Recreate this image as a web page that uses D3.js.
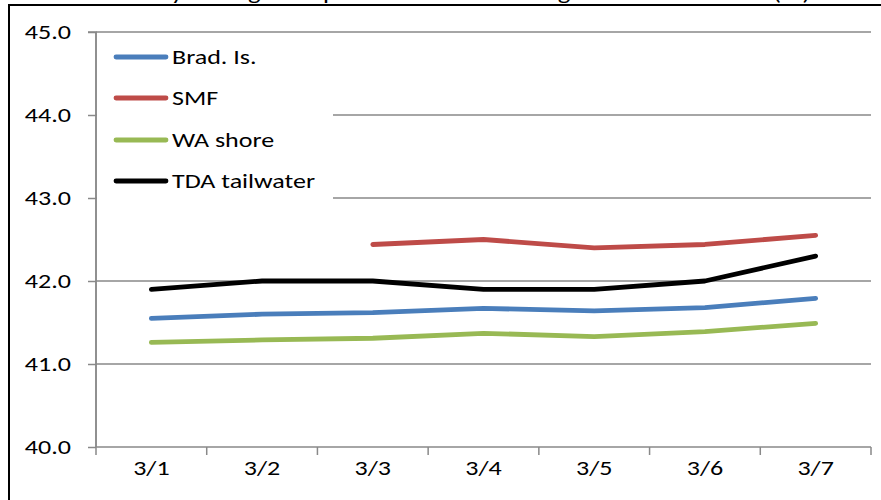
<!DOCTYPE html>
<html>
<head>
<meta charset="utf-8">
<script src="https://cdn.jsdelivr.net/npm/d3@7"></script>
<style>
  html, body { margin: 0; padding: 0; background: #fff; overflow: hidden; }
  svg { display: block; }
  text { font-family: Carlito, Lato, "Open Sans", sans-serif; fill: #000; }
</style>
</head>
<body>
<svg id="chart" width="881" height="500"></svg>
<script>
const categories = ["3/1", "3/2", "3/3", "3/4", "3/5", "3/6", "3/7"];
const bradIs = [41.55, 41.60, 41.62, 41.67, 41.64, 41.68, 41.79];
const smf = [null, null, 42.44, 42.50, 42.40, 42.44, 42.55];
const waShore = [41.26, 41.29, 41.31, 41.37, 41.33, 41.39, 41.49];
const tdaTailwater = [41.9, 42.0, 42.0, 41.9, 41.9, 42.0, 42.3];
const yTicks = [40, 41, 42, 43, 44, 45];
const seriesNames = ["Brad. Is.", "SMF", "WA shore", "TDA tailwater"];
const seriesColors = ["#4a7ebb", "#be4b48", "#98b954", "#000000"];
const titleText = "Daily average temperature at monitoring stations near TDA (°F)";

const series = [bradIs, smf, waShore, tdaTailwater].map((v, i) => ({
  name: seriesNames[i], color: seriesColors[i], values: v
}));

const svg = d3.select("#chart");
const SX = 1.27; // horizontal stretch of text seen in the reference
const FS = "20.5px";
const gridColor = "#898989";

const margin = { left: 96 };

const x = d3.scaleBand().domain(categories).range([margin.left, 871]).paddingInner(0).paddingOuter(0);
const y = d3.scaleLinear().domain([40, 45]).range([447, 32]);

function stretchedText(sel, tx, ty, str, anchor, size) {
  return sel.append("text")
    .attr("transform", `translate(${tx},${ty}) scale(${SX},1)`)
    .attr("text-anchor", anchor)
    .attr("font-size", size)
    .text(str);
}

// title (mostly cut off at the top, as in the reference)
stretchedText(svg, 470, 0, titleText, "middle", "21px");

// outer frame
svg.append("rect")
  .attr("x", 9).attr("y", 5)
  .attr("width", 1000).attr("height", 1000)
  .attr("fill", "none").attr("stroke", "#000").attr("stroke-width", 2);

// gridlines
svg.append("g").selectAll("line")
  .data(yTicks.filter(d => d !== 40))
  .join("line")
  .attr("x1", margin.left).attr("x2", 871)
  .attr("y1", d => y(d)).attr("y2", d => y(d))
  .attr("stroke", gridColor).attr("stroke-width", 1.5);

// legend background (white box covering gridlines)
svg.append("rect")
  .attr("x", 97).attr("y", 38).attr("width", 236).attr("height", 166)
  .attr("fill", "#fff");

// y axis
const yAxis = d3.axisLeft(y).tickValues(yTicks).tickSize(8).tickFormat(d3.format(".1f"));
const gy = svg.append("g").attr("transform", `translate(${margin.left},0)`).call(yAxis);
gy.select(".domain").attr("stroke", gridColor).attr("stroke-width", 1.5).attr("d", `M-8,${y(45)}H0V${y(40)}`);
gy.selectAll(".tick line").attr("stroke", gridColor).attr("stroke-width", 1.5);
gy.selectAll(".tick text").remove();
yTicks.forEach(t => {
  stretchedText(svg, 71, y(t) + 7, d3.format(".1f")(t), "end", FS);
});

// x axis
const xAxis = d3.axisBottom(x).tickSize(0).tickFormat("");
const gx = svg.append("g").attr("transform", `translate(0,${y(40)})`).call(xAxis);
gx.select(".domain").attr("stroke", gridColor).attr("stroke-width", 1.5).attr("d", `M${margin.left},0H871`);
const boundaries = categories.map(c => x(c)).concat([x(categories[categories.length - 1]) + x.bandwidth()]);
gx.selectAll(".bnd").data(boundaries).join("line")
  .attr("x1", d => d).attr("x2", d => d).attr("y1", 0).attr("y2", 8)
  .attr("stroke", gridColor).attr("stroke-width", 1.5);
categories.forEach(c => {
  stretchedText(svg, x(c) + x.bandwidth() / 2, 475, c, "middle", FS);
});

// y axis line above legend box
svg.append("line")
  .attr("x1", margin.left).attr("x2", margin.left)
  .attr("y1", y(45)).attr("y2", y(40))
  .attr("stroke", gridColor).attr("stroke-width", 1.5);

// series lines
const line = d3.line()
  .defined(d => d.v !== null)
  .x(d => x(d.c) + x.bandwidth() / 2)
  .y(d => y(d.v));

svg.append("g").selectAll("path")
  .data(series)
  .join("path")
  .attr("d", s => line(s.values.map((v, i) => ({ c: categories[i], v }))))
  .attr("fill", "none")
  .attr("stroke", s => s.color)
  .attr("stroke-width", 4.8)
  .attr("stroke-linejoin", "round")
  .attr("stroke-linecap", "round");

// legend
const legendY = [57, 98, 140, 181];
const lg = svg.append("g");
series.forEach((s, i) => {
  lg.append("line")
    .attr("x1", 116).attr("x2", 166)
    .attr("y1", legendY[i]).attr("y2", legendY[i])
    .attr("stroke", s.color).attr("stroke-width", 4.8)
    .attr("stroke-linecap", "round");
  stretchedText(lg, 172, legendY[i] + 7, s.name, "start", FS);
});
</script>
</body>
</html>
